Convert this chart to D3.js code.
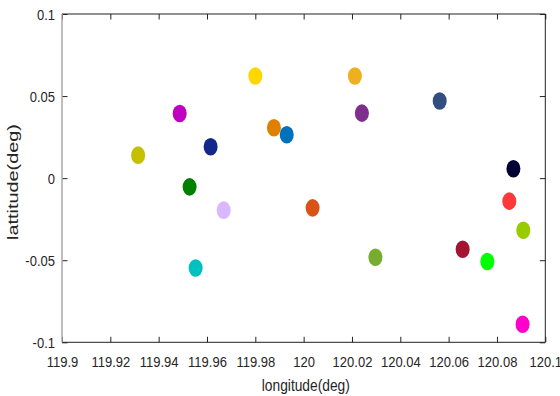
<!DOCTYPE html>
<html><head><meta charset="utf-8">
<script src="https://cdn.jsdelivr.net/npm/d3@7"></script>
<style>
body{margin:0;background:#fff;}
text{font-family:"Liberation Sans",Arial,sans-serif;}
</style></head>
<body>
<svg id="chart" width="560" height="396"></svg>
<script>
const lon = [119.9315,119.9487,119.9615,119.9528,119.9669,119.9553,119.9800,119.9877,119.9930,120.0037,
             120.0212,120.0241,120.0563,120.0868,120.0851,120.0909,120.0658,120.0760,120.0297,120.0906];
const lat = [0.0140,0.0394,0.0191,-0.0053,-0.0195,-0.0547,0.0622,0.0307,0.0264,-0.0181,
             0.0622,0.0396,0.0470,0.0057,-0.0140,-0.0317,-0.0433,-0.0508,-0.0482,-0.0890];
const colors = ["#c4c000","#c000c0","#14288c","#008000","#d9b8ff","#00c0c0","#ffd700","#e08000","#0072bd","#d95319",
                "#edb120","#7e2f8e","#344d80","#000033","#ff3838","#99cc00","#a2142f","#00ff00","#77ac30","#ff00cc"];
const xTicks = [119.9,119.92,119.94,119.96,119.98,120,120.02,120.04,120.06,120.08,120.1];
const xTickLabels = ["119.9","119.92","119.94","119.96","119.98","120","120.02","120.04","120.06","120.08","120.1"];
const yTicks = [-0.1,-0.05,0,0.05,0.1];
const yTickLabels = ["-0.1","-0.05","0","0.05","0.1"];
const xLabel = "longitude(deg)";
const yLabel = "lattitude(deg)";

const svg = d3.select("#chart");
const L=62,R=545.3,T=14,B=342.3;
const x = d3.scaleLinear().domain([119.9,120.1]).range([L,R]);
const y = d3.scaleLinear().domain([-0.1,0.1]).range([B,T]);
const SX = 0.84;   // horizontal compression of tick labels
const FS = "15.5px";

// points
svg.append("g").selectAll("ellipse").data(lon.map((d,i)=>({x:d,y:lat[i],c:colors[i]})))
  .enter().append("ellipse")
  .attr("cx",d=>x(d.x)).attr("cy",d=>y(d.y)).attr("rx",7).attr("ry",8.8).attr("fill",d=>d.c);

function styleAxis(g){
  g.selectAll(".tick line").attr("stroke","#222");
  g.select(".domain").remove();
}

const gb = svg.append("g").attr("transform",`translate(0,${B})`)
  .call(d3.axisBottom(x).tickValues(xTicks).tickFormat((d,i)=>xTickLabels[i]).tickSizeInner(-5.5).tickSizeOuter(0));
styleAxis(gb);
gb.selectAll(".tick text").attr("fill","#262626").style("font-size",FS)
  .attr("y",25.2).attr("dy",null).attr("transform",`scale(${SX},1)`);

const gt = svg.append("g").attr("transform",`translate(0,${T})`)
  .call(d3.axisTop(x).tickValues(xTicks).tickFormat("").tickSizeInner(-5.5).tickSizeOuter(0));
styleAxis(gt);

const gl = svg.append("g").attr("transform",`translate(${L},0)`)
  .call(d3.axisLeft(y).tickValues(yTicks).tickFormat((d,i)=>yTickLabels[i]).tickSizeInner(-5.5).tickSizeOuter(0));
styleAxis(gl);
gl.selectAll(".tick text").attr("fill","#262626").style("font-size",FS)
  .attr("x",-7/SX).attr("dy","0.34em").attr("transform",`scale(${SX},1)`);

const gr = svg.append("g").attr("transform",`translate(${R},0)`)
  .call(d3.axisRight(y).tickValues(yTicks).tickFormat("").tickSizeInner(-5.5).tickSizeOuter(0));
styleAxis(gr);

// box lines
svg.append("line").attr("x1",L).attr("x2",R).attr("y1",T).attr("y2",T).attr("stroke","#222");
svg.append("line").attr("x1",L).attr("x2",R).attr("y1",B).attr("y2",B).attr("stroke","#222");
svg.append("line").attr("x1",R).attr("x2",R).attr("y1",T).attr("y2",B).attr("stroke","#222");
svg.append("line").attr("x1",L).attr("x2",L).attr("y1",T).attr("y2",B).attr("stroke","#a8a8a8").attr("stroke-width",1.5);

svg.append("text").attr("x",305.8).attr("y",391).attr("text-anchor","middle")
  .style("font-size","16px").attr("fill","#262626")
  .attr("textLength",88).attr("lengthAdjust","spacingAndGlyphs").text(xLabel);
svg.append("text").attr("transform","translate(17.5,182) rotate(-90)").attr("text-anchor","middle")
  .style("font-size","15px").attr("fill","#262626")
  .attr("textLength",116).attr("lengthAdjust","spacingAndGlyphs").text(yLabel);
</script>
</body></html>
